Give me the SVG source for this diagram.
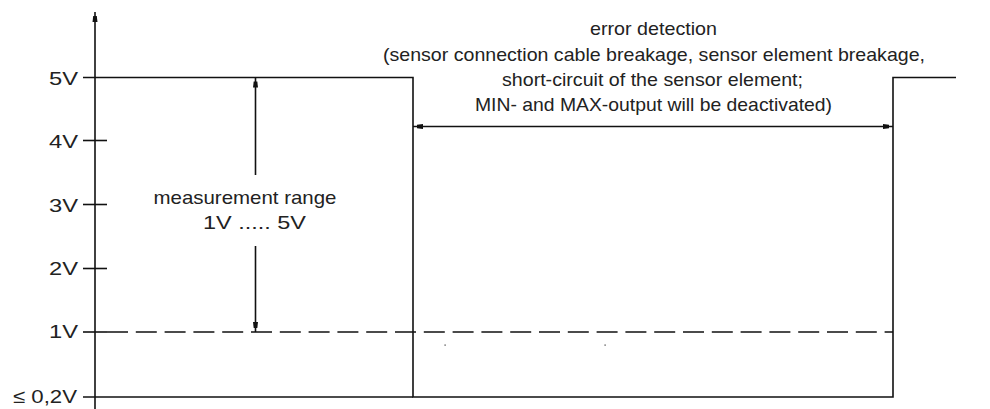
<svg xmlns="http://www.w3.org/2000/svg" width="990" height="409" viewBox="0 0 990 409">
  <style>
    .ln { stroke: #111; stroke-width: 1.6; fill: none; }
    .dash { stroke: #111; stroke-width: 1.6; fill: none; stroke-dasharray: 21 7.8; }
    .lbl { font-family: "Liberation Sans", Arial, sans-serif; font-size: 19px; fill: #222; }
    .r { text-anchor: end; }
    .c { text-anchor: middle; }
  </style>
  <defs>
    <!-- small solid blob used as arrow tip, set back from the line end -->
    <marker id="tip" viewBox="0 0 14 6" refX="14" refY="3" markerWidth="14" markerHeight="6" markerUnits="userSpaceOnUse" orient="auto-start-reverse">
      <path d="M4,0.5 L10,1.2 L10,4.8 L4,5.5 Z" fill="#111"/>
    </marker>
  </defs>

  <!-- axis -->
  <g id="axis">
    <line class="ln" x1="95" y1="12" x2="95" y2="409" marker-start="url(#tip)"/>
    <line class="ln" x1="83" y1="140.5" x2="107" y2="140.5"/>
    <line class="ln" x1="83" y1="204.5" x2="107" y2="204.5"/>
    <line class="ln" x1="83" y1="268.5" x2="107" y2="268.5"/>
    <text class="lbl r" x="78" y="85" textLength="29" lengthAdjust="spacingAndGlyphs">5V</text>
    <text class="lbl r" x="78" y="148" textLength="29" lengthAdjust="spacingAndGlyphs">4V</text>
    <text class="lbl r" x="78" y="212" textLength="29" lengthAdjust="spacingAndGlyphs">3V</text>
    <text class="lbl r" x="78" y="275" textLength="29" lengthAdjust="spacingAndGlyphs">2V</text>
    <text class="lbl r" x="78" y="338" textLength="29" lengthAdjust="spacingAndGlyphs">1V</text>
    <text class="lbl" x="13" y="403" textLength="64" lengthAdjust="spacingAndGlyphs">≤ 0,2V</text>
  </g>

  <!-- signal trace -->
  <g id="signal">
    <polyline class="ln" points="83,77.5 413,77.5 413,397 893,397 893,77.5 956,77.5"/>
    <line class="ln" x1="83" y1="397" x2="413" y2="397"/>
    <line class="dash" x1="107" y1="332" x2="893" y2="332"/>
    <line class="ln" x1="83" y1="332" x2="107" y2="332"/>
    <rect x="444.5" y="344.5" width="1.2" height="1.2" fill="#333"/>
    <rect x="604.5" y="344.5" width="1.2" height="1.2" fill="#333"/>
  </g>

  <!-- measurement range -->
  <g id="measurement-range">
    <line class="ln" x1="255.5" y1="77.5" x2="255.5" y2="175" marker-start="url(#tip)"/>
    <line class="ln" x1="255.5" y1="246" x2="255.5" y2="332" marker-end="url(#tip)"/>
    <text class="lbl c" x="245" y="204" textLength="183" lengthAdjust="spacingAndGlyphs">measurement range</text>
    <text class="lbl c" x="254.5" y="229" textLength="103" lengthAdjust="spacingAndGlyphs">1V ..... 5V</text>
  </g>

  <!-- error detection -->
  <g id="error-detection">
    <line class="ln" x1="413" y1="126.5" x2="893" y2="126.5" marker-start="url(#tip)" marker-end="url(#tip)"/>
    <text class="lbl c" x="653.5" y="35" textLength="127" lengthAdjust="spacingAndGlyphs">error detection</text>
    <text class="lbl c" x="654" y="60.5" textLength="542" lengthAdjust="spacingAndGlyphs">(sensor connection cable breakage, sensor element breakage,</text>
    <text class="lbl c" x="652.5" y="86" textLength="301" lengthAdjust="spacingAndGlyphs">short-circuit of the sensor element;</text>
    <text class="lbl c" x="653.5" y="111" textLength="357" lengthAdjust="spacingAndGlyphs">MIN- and MAX-output will be deactivated)</text>
  </g>
</svg>
